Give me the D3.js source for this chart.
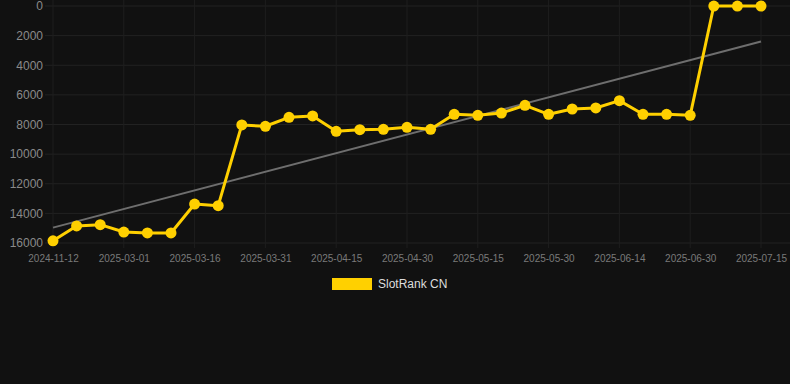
<!DOCTYPE html>
<html>
<head>
<meta charset="utf-8">
<script src="https://cdn.jsdelivr.net/npm/d3@7"></script>
<style>
html,body{margin:0;padding:0;background:#111111;}
svg{display:block;}
text{font-family:"Liberation Sans",Arial,Helvetica,sans-serif;}
</style>
</head>
<body>
<svg id="chart" width="790" height="384"></svg>
<script>
const categories = [
  "2024-11-12","2025-02-19","2025-02-24","2025-03-01","2025-03-06","2025-03-11",
  "2025-03-16","2025-03-21","2025-03-26","2025-03-31","2025-04-05","2025-04-10",
  "2025-04-15","2025-04-20","2025-04-25","2025-04-30","2025-05-05","2025-05-10",
  "2025-05-15","2025-05-20","2025-05-25","2025-05-30","2025-06-04","2025-06-09",
  "2025-06-14","2025-06-19","2025-06-24","2025-06-30","2025-07-05","2025-07-10",
  "2025-07-15"
];
const rankValues = [
  15850,14850,14760,15260,15320,15320,13370,13480,8030,8120,7515,7425,
  8460,8350,8325,8190,8325,7310,7380,7225,6705,7310,6953,6885,
  6390,7310,7310,7380,1,1,1
];
const xTickLabels = ["2024-11-12","2025-03-01","2025-03-16","2025-03-31","2025-04-15",
  "2025-04-30","2025-05-15","2025-05-30","2025-06-14","2025-06-30","2025-07-15"];
const yTickValues = [0,2000,4000,6000,8000,10000,12000,14000,16000];
const seriesName = "SlotRank CN";

const svg = d3.select("#chart");
const W = 790;
const x = d3.scalePoint().domain(categories).range([53, 761]);
const y = d3.scaleLinear().domain([0, 16000]).range([6, 243]);

// grid
const grid = svg.append("g");
grid.selectAll("line.h").data(yTickValues).enter().append("line")
  .attr("x1", 45).attr("x2", W)
  .attr("y1", d => y(d)).attr("y2", d => y(d))
  .attr("stroke", "#222222").attr("stroke-width", 1);
grid.selectAll("line.v").data(xTickLabels).enter().append("line")
  .attr("x1", d => x(d)).attr("x2", d => x(d))
  .attr("y1", 0).attr("y2", 248)
  .attr("stroke", "#1e1e1e").attr("stroke-width", 1);

// y axis
const yAxis = d3.axisLeft(y).tickValues(yTickValues).tickSize(0).tickPadding(0).tickFormat(d => String(d));
const gy = svg.append("g").attr("transform", "translate(43,0)").call(yAxis);
gy.select(".domain").remove();
gy.selectAll("text").attr("fill", "#8a8a8a").attr("font-size", 12)
  .attr("font-family", "'Liberation Sans',Arial,sans-serif");

// x axis
const xAxis = d3.axisBottom(x).tickValues(xTickLabels).tickSize(0).tickPadding(0);
const gx = svg.append("g").attr("transform", "translate(0,255)").call(xAxis);
gx.select(".domain").remove();
gx.selectAll("text").attr("fill", "#7a7a7a").attr("font-size", 10).attr("dy", "0.71em")
  .attr("font-family", "'Liberation Sans',Arial,sans-serif");

// trend line (least squares over index)
const n = rankValues.length;
const idx = d3.range(n);
const mx = d3.mean(idx), my = d3.mean(rankValues);
const slope = d3.sum(idx, i => (i - mx) * (rankValues[i] - my)) / d3.sum(idx, i => (i - mx) * (i - mx));
const intercept = my - slope * mx;
svg.append("line")
  .attr("x1", x(categories[0])).attr("y1", y(intercept))
  .attr("x2", x(categories[n - 1])).attr("y2", y(intercept + slope * (n - 1)))
  .attr("stroke", "#6e6e6e").attr("stroke-width", 2);

// series line
const line = d3.line().x((d, i) => x(categories[i])).y(d => y(d));
svg.append("path").datum(rankValues)
  .attr("d", line).attr("fill", "none")
  .attr("stroke", "#FFD000").attr("stroke-width", 3).attr("stroke-linejoin", "round");
svg.selectAll("circle.pt").data(rankValues).enter().append("circle")
  .attr("cx", (d, i) => x(categories[i])).attr("cy", d => y(d))
  .attr("r", 5.5).attr("fill", "#FFD000");

// legend
const lg = svg.append("g");
lg.append("rect").attr("x", 332).attr("y", 278).attr("width", 40).attr("height", 12).attr("fill", "#FFD000");
lg.append("text").attr("x", 378).attr("y", 284).attr("dy", "0.35em")
  .attr("fill", "#dddddd").attr("font-size", 12).text(seriesName);
</script>
</body>
</html>
